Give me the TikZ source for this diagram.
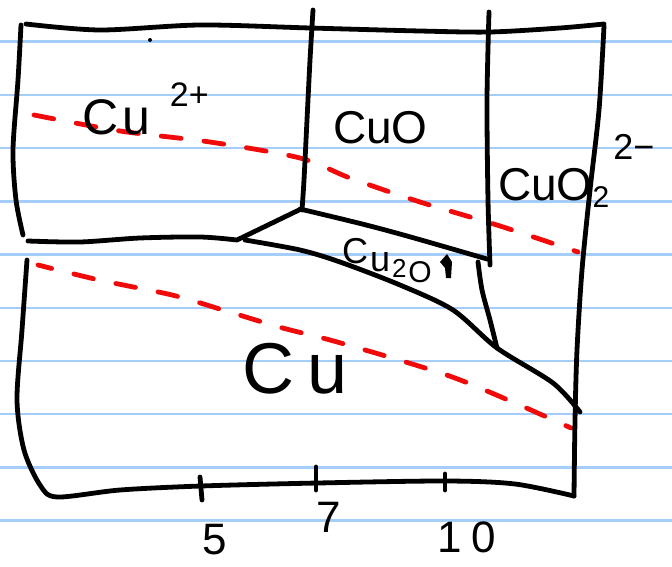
\documentclass[tikz,border=0pt]{standalone}
\usepackage{fontspec}
\setmainfont{Liberation Sans}
\definecolor{ruleblue}{RGB}{165,205,250}
\definecolor{penred}{RGB}{240,10,10}
\begin{document}
\begin{tikzpicture}[x=1pt,y=-1pt,
  ink/.style={line width=4.8pt, line cap=round, line join=round, black},
  redline/.style={line width=4.8pt, line cap=round, color=penred, dash pattern=on 20pt off 23pt},
  rule/.style={line width=2.4pt, color=ruleblue},
  lab/.style={inner sep=0pt, outer sep=0pt, text=black}]
\useasboundingbox (0,0) rectangle (672,567);
\fill[white] (0,0) rectangle (672,567);
% ruled paper
\foreach \k in {0,...,9} \draw[rule] (0,41.7+53.2*\k) -- (672,41.7+53.2*\k);

% water lines (red dashed)
\draw[redline] plot[smooth] coordinates {(34,115) (120,131) (210,142) (300,158) (350,178) (420,202) (500,226) (578,252)};
\draw[redline, dash phase=6pt] plot[smooth] coordinates {(38,265) (99,280) (172,295) (223,310) (279,327) (330,340) (399,360) (455,378) (515,403) (571,428)};

% outer frame
\draw[ink] plot[smooth] coordinates {(26,24) (100,30) (200,25) (310,28) (420,31) (490,32) (560,28) (604,24)};
\draw[ink] plot[smooth] coordinates {(604,26) (599,110) (590,190) (582,270) (577,350) (575,420) (574,496)};
\draw[ink] plot[smooth] coordinates {(21,25) (18,80) (13,150) (16,200) (23,235)};
\draw[ink] plot[smooth] coordinates {(27,260) (22,330) (17,400) (24,450) (40,485) (57,497) (120,490) (201,486) (318,483) (446,481) (515,484) (574,496)};

% phase boundaries
\draw[ink] plot[smooth] coordinates {(313,10) (310,60) (307,120) (304,180) (302,210)};
\draw[ink] plot[smooth] coordinates {(489,12) (487,100) (488,200) (490,265)};
\draw[ink] plot[smooth] coordinates {(28,241) (80,242) (140,238) (200,237) (237,240)} -- (299,210);
\draw[ink] (300,209) .. controls (380,228) .. (487,259);
\draw[ink] plot[smooth] coordinates {(245,240) (300,250) (340,262) (400,285) (453,310) (497,348) (553,383) (580,412)};
\draw[ink] plot[smooth] coordinates {(478,262) (482,290) (490,320) (497,348)};

% ticks
\draw[ink] (200,477) -- (202,500);
\draw[ink] (316,467) -- (316,490);
\draw[ink] (445,474) -- (445,490);

% stray dot
\fill (150,40) circle (2pt);

% labels
\node[lab, anchor=base west, font=\fontsize{50}{50}\selectfont] (cu2p) at (82,135)
  {C\kern4pt u\kern20pt\raisebox{28pt}{\fontsize{34}{34}\selectfont 2+}};
\node[lab, anchor=base west, font=\fontsize{46}{46}\selectfont] (cuo) at (333,143) {CuO};
\node[lab, anchor=base west, font=\fontsize{46}{46}\selectfont] (cuo2) at (498,200)
  {CuO\raisebox{-8pt}{\fontsize{30}{30}\selectfont 2}\kern4pt\raisebox{40pt}{\fontsize{36}{36}\selectfont 2−}};
\node[lab, anchor=base west, font=\fontsize{36}{36}\selectfont] (cu2o) at (342,263)
  {C\kern2pt\raisebox{-8pt}{u}\kern2pt\raisebox{-14pt}{\fontsize{26}{26}\selectfont 2}\kern2pt\raisebox{-19pt}{\fontsize{30}{30}\selectfont O}};
\fill (440,262) -- (447,254) -- (452,262) -- (451,278) -- (446,278) -- (445,268) -- cycle;
\node[lab, anchor=base west, font=\fontsize{72}{72}\selectfont] (cu) at (242,393) {C\kern14pt u};

\node[lab, font=\fontsize{44}{44}\selectfont] (t5) at (215,540) {5};
\node[lab, font=\fontsize{44}{44}\selectfont] (t7) at (329,517) {7};
\node[lab, font=\fontsize{44}{44}\selectfont] (t10) at (467,537) {1\kern10pt 0};
\end{tikzpicture}
\end{document}
